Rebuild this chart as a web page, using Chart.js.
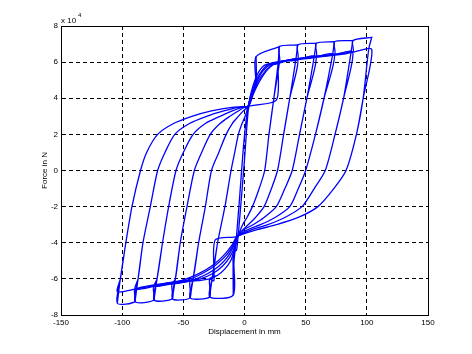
<!DOCTYPE html>
<html>
<head>
<meta charset="utf-8">
<title>Force vs displacement</title>
<script src="https://cdn.jsdelivr.net/npm/chart.js"></script>
<style>
  html, body { margin: 0; padding: 0; background: #fff; }
  #wrap { width: 472px; height: 354px; }
</style>
</head>
<body>
<div id="wrap"><canvas id="myChart" width="472" height="354"></canvas></div>
<script>
// force values are in units of 1e4 N (axis shows "x 10^4"), displacement in mm
const xTicks = [-150, -100, -50, 0, 50, 100, 150];
const yTicks = [-8, -6, -4, -2, 0, 2, 4, 6, 8];

// reversal points of each amplitude step and the force levels there
const ampPos  = [9.4, 28.5, 43.5, 58.5, 73.5, 88.5, 104];
const ampNeg  = [-9.2, -28.5, -44.5, -59, -74, -89.5, -104];
const envTop  = [6.3, 6.86, 6.95, 7.04, 7.13, 7.19, 7.37];
const envBot  = [-6.9, -7.0, -7.05, -7.1, -7.17, -7.26, -7.35];
const platTop = [4.64, 5.95, 6.15, 6.3, 6.42, 6.55, 6.7];
const platBot = [-4.7, -6.0, -6.13, -6.27, -6.42, -6.57, -6.71];

// smallest loop, drawn as read
const smallLoop = [[-9.2,-6.9],[-8.8,-5.2],[-7,-4.0],[-4,-1.5],[-1,1.2],[1.5,2.9],[3,3.55],[6,4.3],[9.4,4.64],
  [9.4,6.3],[9,4.9],[5,3.9],[3,3.3],[0,0.6],[-3,-1.9],[-6.4,-4.4],[-8,-4.5],[-9.2,-4.7],[-9.2,-6.9]];

// loading branches (from negative reversal up to the upper crossing)
const up28  = [[-28.5,-7.0],[-26.5,-6],[-22,-4],[-16,-2],[-11,0],[-8,1],[-5,2],[-2,2.6],[0.5,3],[2,3.3],[3,3.55]];
const up43  = [[-44.5,-7.05],[-42,-6],[-37.5,-4],[-32,-2],[-27,0],[-21,1],[-15,2],[-10,2.6],[-5,3],[-1,3.3],[3,3.55]];
const up58  = [[-59,-7.1],[-56.5,-6],[-52.5,-4],[-47,-2],[-41,0],[-35,1],[-28,2],[-20,2.6],[-12,3],[-5,3.3],[0,3.5],[3,3.55]];
const up73  = [[-74,-7.17],[-71.5,-6],[-67,-4],[-62,-2],[-56,0],[-50,1],[-42,2],[-32,2.6],[-20,3],[-10,3.3],[-2,3.5],[3,3.55]];
const up88  = [[-89.5,-7.26],[-87,-6],[-83,-4],[-77,-2],[-71,0],[-65,1],[-57,2],[-45,2.6],[-31,3],[-17,3.3],[-5,3.5],[3,3.55]];
const up104 = [[-104,-7.35],[-101.5,-6],[-97,-4],[-92,-2],[-85,0],[-80,1],[-71,2],[-58,2.6],[-43,3],[-27,3.3],[-10,3.5],[3,3.55]];

// unloading branches (from positive peak down to the lower crossing)
const down28  = [[28.5,6.86],[27.5,5.95],[24,4],[20,2],[16.5,0],[12,-1],[6.5,-2],[2,-2.6],[-1.5,-3],[-4,-3.4],[-6,-3.66]];
const down43  = [[43.5,6.95],[42,6.15],[37,4],[32,2],[27,0],[22,-1],[16,-2],[9,-2.6],[3,-3],[-3,-3.4],[-6,-3.66]];
const down58  = [[58.5,7.04],[57,6.3],[51,4],[45,2],[39,0],[33,-1],[26,-2],[16,-2.6],[7,-3],[-1,-3.3],[-6,-3.66]];
const down73  = [[73.5,7.13],[72,6.4],[65,4],[58,2],[50,0],[44,-1],[37,-2],[25,-2.6],[13,-3],[2,-3.3],[-6,-3.66]];
const down88  = [[88.5,7.19],[87,6.5],[81,4],[74,2],[66,0],[57,-1],[47,-2],[33,-2.6],[19,-3],[5,-3.3],[-6,-3.66]];
const down104 = [[104,7.37],[101.5,6.7],[97,4],[91.5,2],[83,0],[73,-1],[60,-2],[44,-2.6],[26,-3],[9,-3.3],[-6,-3.66]];

// stiffening after the crossings, up to the plateau
const rise28  = [[6,4.3],[9.4,4.64]];
const rise43  = [[5,4.2],[8,4.9],[12,5.5],[17,5.85],[28.5,5.95]];
const rise58  = [[5,4.1],[9,4.9],[14,5.5],[20,5.9],[30,6.05],[43.5,6.15]];
const rise73  = [[6,4.2],[10,4.9],[15,5.5],[22,5.9],[35,6.1],[58.5,6.3]];
const rise88  = [[6,4.1],[11,4.9],[17,5.5],[25,5.95],[45,6.2],[73.5,6.42]];
const rise104 = [[7,4.2],[12,4.9],[19,5.6],[28,6.0],[50,6.25],[88.5,6.55]];

const fall28  = [[-8,-4.4],[-9.2,-4.7]];
const fall43  = [[-8,-4.3],[-11,-4.95],[-16,-5.45],[-22,-5.8],[-28.5,-6.0]];
const fall58  = [[-8,-4.2],[-12,-4.8],[-18,-5.3],[-26,-5.7],[-36,-6.0],[-44.5,-6.13]];
const fall73  = [[-9,-4.2],[-14,-4.8],[-21,-5.3],[-30,-5.7],[-42,-6.05],[-59,-6.27]];
const fall88  = [[-9,-4.1],[-15,-4.7],[-23,-5.2],[-33,-5.65],[-46,-6.05],[-74,-6.42]];
const fall104 = [[-10,-4.1],[-17,-4.7],[-26,-5.25],[-37,-5.7],[-52,-6.1],[-89.5,-6.57]];

// second cycle at 28.5 mm runs flat past the crossing
const flatTop28 = [[26,3.9],[27.5,5.9]];
const flatBot28 = [[-24,-3.85],[-25,-6.1]];

const ups   = [null, up28, up43, up58, up73, up88, up104];
const downs = [null, down28, down43, down58, down73, down88, down104];
const rises = [null, rise28, rise43, rise58, rise73, rise88, rise104];
const falls = [null, fall28, fall43, fall58, fall73, fall88, fall104];

function loopPath(k) {
  const up = ups[k], down = downs[k], rise = rises[k], fall = falls[k];
  const rise2 = k === 1 ? flatTop28 : rise;
  const fall2 = k === 1 ? flatBot28 : fall;
  return [
    // first cycle: goes onto the envelope past the previous amplitude
    ...up, ...rise,
    [ampPos[k - 1], envTop[k - 1]], [ampPos[k], envTop[k]],
    ...down, ...fall,
    [ampNeg[k - 1], envBot[k - 1]], [ampNeg[k], envBot[k]],
    // repeated cycle: stays on the plateau
    ...up.slice(1), ...rise2, [ampPos[k], platTop[k]],
    ...down.slice(2), ...fall2, [ampNeg[k], platBot[k]],
    ...up.slice(1)
  ];
}

const datasets = [smallLoop];
for (let k = 1; k < ampPos.length; k++) datasets.push(loopPath(k));

const blue = '#0000ff';
const font8 = { family: "'Liberation Sans', Arial, sans-serif", size: 8 };

const frame = {
  id: 'frame',
  afterDraw(chart) {
    const { ctx, chartArea: a } = chart;
    ctx.save();
    ctx.strokeStyle = '#000';
    ctx.lineWidth = 1;
    ctx.setLineDash([]);
    ctx.strokeRect(Math.round(a.left) + 0.5, Math.round(a.top) + 0.5,
                   Math.round(a.right - a.left), Math.round(a.bottom - a.top));
    ctx.fillStyle = '#000';
    ctx.font = "8px 'Liberation Sans', Arial, sans-serif";
    ctx.textBaseline = 'alphabetic';
    ctx.fillText('x 10', a.left, a.top - 3);
    ctx.font = "6px 'Liberation Sans', Arial, sans-serif";
    ctx.fillText('4', a.left + 17, a.top - 9);
    ctx.restore();
  }
};

new Chart(document.getElementById('myChart'), {
  type: 'scatter',
  data: {
    datasets: datasets.map(d => ({
      data: d,
      showLine: true,
      borderColor: blue,
      borderWidth: 1.3,
      pointRadius: 0,
      tension: 0.25,
      fill: false
    }))
  },
  options: {
    responsive: false,
    animation: false,
    events: [],
    layout: { padding: { left: 40, top: 26, right: 44, bottom: 0 } },
    plugins: { legend: { display: false }, tooltip: { enabled: false } },
    scales: {
      x: {
        type: 'linear',
        min: xTicks[0], max: xTicks[xTicks.length - 1],
        afterBuildTicks: s => { s.ticks = xTicks.map(v => ({ value: v })); },
        afterFit: s => { s.height = 39; },
        ticks: { color: '#000', font: font8, padding: 3, maxRotation: 0 },
        grid: { color: '#000', lineWidth: 1, drawTicks: false },
        border: { display: true, color: '#000', width: 1, dash: [4, 3] },
        title: { display: true, text: 'Displacement in mm', color: '#000', font: font8,
                 padding: { top: 0, bottom: 17 } }
      },
      y: {
        type: 'linear',
        min: yTicks[0], max: yTicks[yTicks.length - 1],
        afterBuildTicks: s => { s.ticks = yTicks.map(v => ({ value: v })); },
        afterFit: s => { s.width = 21; },
        ticks: { color: '#000', font: font8, padding: 3 },
        grid: { color: '#000', lineWidth: 1, drawTicks: false },
        border: { display: true, color: '#000', width: 1, dash: [4, 3] },
        title: { display: true, text: 'Force in N', color: '#000', font: font8, padding: 0 }
      }
    }
  },
  plugins: [frame]
});
</script>
</body>
</html>
